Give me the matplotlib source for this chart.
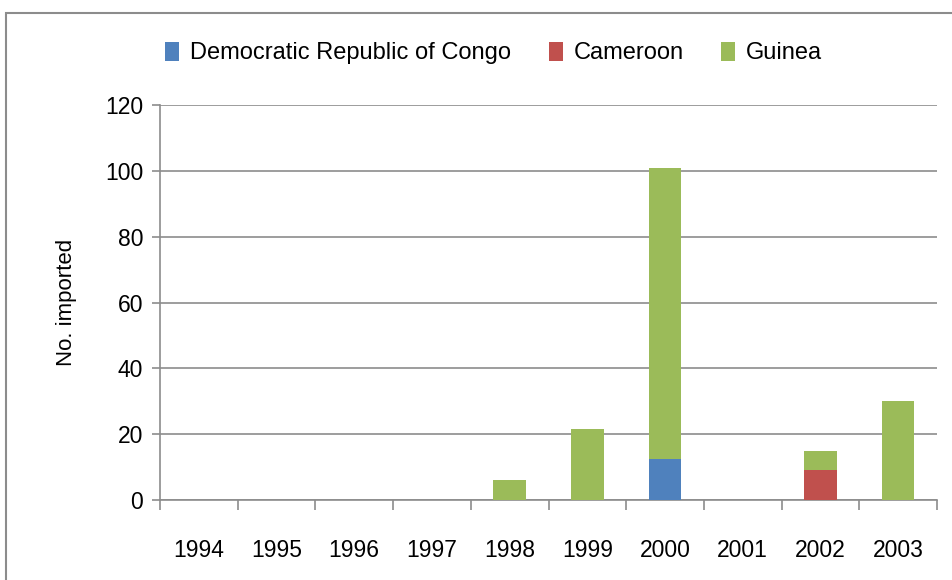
import matplotlib.pyplot as plt
import numpy as np
from matplotlib.patches import Rectangle

years = ['1994', '1995', '1996', '1997', '1998', '1999', '2000', '2001', '2002', '2003']
drc = [0, 0, 0, 0, 0, 0, 12.5, 0, 0, 0]
cameroon = [0, 0, 0, 0, 0, 0, 0, 0, 9, 0]
guinea = [0, 0, 0, 0, 6, 21.5, 88.5, 0, 6, 30]

colors = ['#4F81BD', '#C0504D', '#9BBB59']
names = ['Democratic Republic of Congo', 'Cameroon', 'Guinea']

plt.rcParams['font.family'] = ['Liberation Sans', 'DejaVu Sans']

fig = plt.figure(figsize=(9.53, 5.8), dpi=100)
# outer chart frame
fig.patches.append(Rectangle((6 / 953, -0.1), 1.1, 1 - 13 / 580 + 0.1, transform=fig.transFigure,
                             fill=False, edgecolor='#8c8c8c', linewidth=1.5))

ax = fig.add_axes([160 / 953, 1 - 500 / 580, 777 / 953, 395 / 580])
x = np.arange(len(years))
bottom = np.zeros(len(years))
for vals, c, n in zip([drc, cameroon, guinea], colors, names):
    ax.bar(x, vals, width=0.42, bottom=bottom, color=c, label=n, zorder=3)
    bottom += np.array(vals)

ax.set_xlim(-0.5, len(years) - 0.5)
ax.set_ylim(0, 120)
ax.set_yticks(range(0, 121, 20))
ax.yaxis.grid(True, color='#8c8c8c', linewidth=1.2, zorder=0)
ax.set_xticks(x)
ax.set_xticklabels(years)
ax.set_xticks(np.arange(-0.5, len(years)), minor=True)
ax.tick_params(axis='x', which='major', length=0, pad=28, labelsize=16.5)
ax.tick_params(axis='x', which='minor', length=7, color='#8c8c8c', width=1.2)
ax.tick_params(axis='y', length=6, color='#8c8c8c', width=1.2, labelsize=16.5, pad=6)
for s in ['top', 'right']:
    ax.spines[s].set_visible(False)
for s in ['left', 'bottom']:
    ax.spines[s].set_color('#8c8c8c')
    ax.spines[s].set_linewidth(1.2)

ax.set_ylabel('No. imported', fontsize=16, labelpad=20)

ax.legend(loc='center', bbox_to_anchor=(0.518, 1 - 53 / 580), bbox_transform=fig.transFigure,
          ncol=3, frameon=False, fontsize=17, handlelength=0.6, handleheight=0.9,
          handletextpad=0.45, columnspacing=1.6)

fig.savefig('out.png', dpi=100)
